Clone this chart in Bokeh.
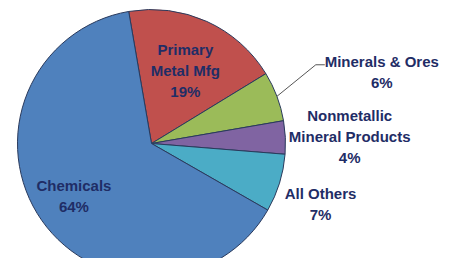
import numpy as np
from bokeh.plotting import figure
from bokeh.models import Range1d
from bokeh.core.properties import value
from bokeh.embed import file_html
from bokeh.resources import INLINE

# ---- data ----
categories = ["Primary Metal Mfg", "Minerals & Ores", "Nonmetallic Mineral Products", "All Others", "Chemicals"]
label_texts = ["Primary\nMetal Mfg", "Minerals & Ores", "Nonmetallic\nMineral Products", "All Others", "Chemicals"]
shares = [19, 6, 4, 7, 64]
colors = ["#C0504D", "#9BBB59", "#8064A2", "#4BACC6", "#4F81BD"]

# ---- layout / style ----
W, H = 444, 258
PAGE_H = 274
cx, cy_pix, R = 151, 143, 134
start_deg = 99.8  # math degrees, clockwise sweep
# label placement: (radius factor, angle shift deg) per slice
label_rf = [0.60, 1.80, 1.48, 1.34, 0.70]
label_shift = [-0.5, -3.3, -0.6, -2.5, -0.8]
text_color = "#1F2D66"
FONT = "Liberation Sans, Arial, sans-serif"

cy = PAGE_H - cy_pix

p = figure(width=W, height=H, output_backend="svg", toolbar_location=None,
           x_range=Range1d(0, W), y_range=Range1d(PAGE_H - H, PAGE_H),
           min_border=0, outline_line_color=None)
p.axis.visible = False
p.grid.visible = False

fr = np.array(shares, dtype=float) / sum(shares)
ends = start_deg - 360 * np.cumsum(fr)
starts = np.concatenate([[start_deg], ends[:-1]])
mids = (starts + ends) / 2

p.wedge(x=cx, y=cy, radius=R, start_angle=np.radians(starts), end_angle=np.radians(ends),
        direction="clock", fill_color=colors, line_color="#2A3A5C", line_width=1)

lx = cx + R * np.array(label_rf) * np.cos(np.radians(mids + np.array(label_shift)))
ly = cy + R * np.array(label_rf) * np.sin(np.radians(mids + np.array(label_shift)))
full = [f"{t}\n{s}%" for t, s in zip(label_texts, shares)]
p.text(x=lx, y=ly, text=full, text_align="center", text_baseline="middle",
       text_font=value(FONT), text_font_size="15px", text_font_style="bold",
       text_color=text_color, text_line_height=1.23)

# leader line for Minerals & Ores
i = 1
ex = cx + R * np.cos(np.radians(mids[i]))
ey = cy + R * np.sin(np.radians(mids[i]))
p.line(x=[ex, lx[i] - 66, lx[i] - 57], y=[ey, ly[i] + 7, ly[i] + 7],
       line_color="#555555", line_width=1)

open("out.html", "w").write(file_html(p, INLINE))
